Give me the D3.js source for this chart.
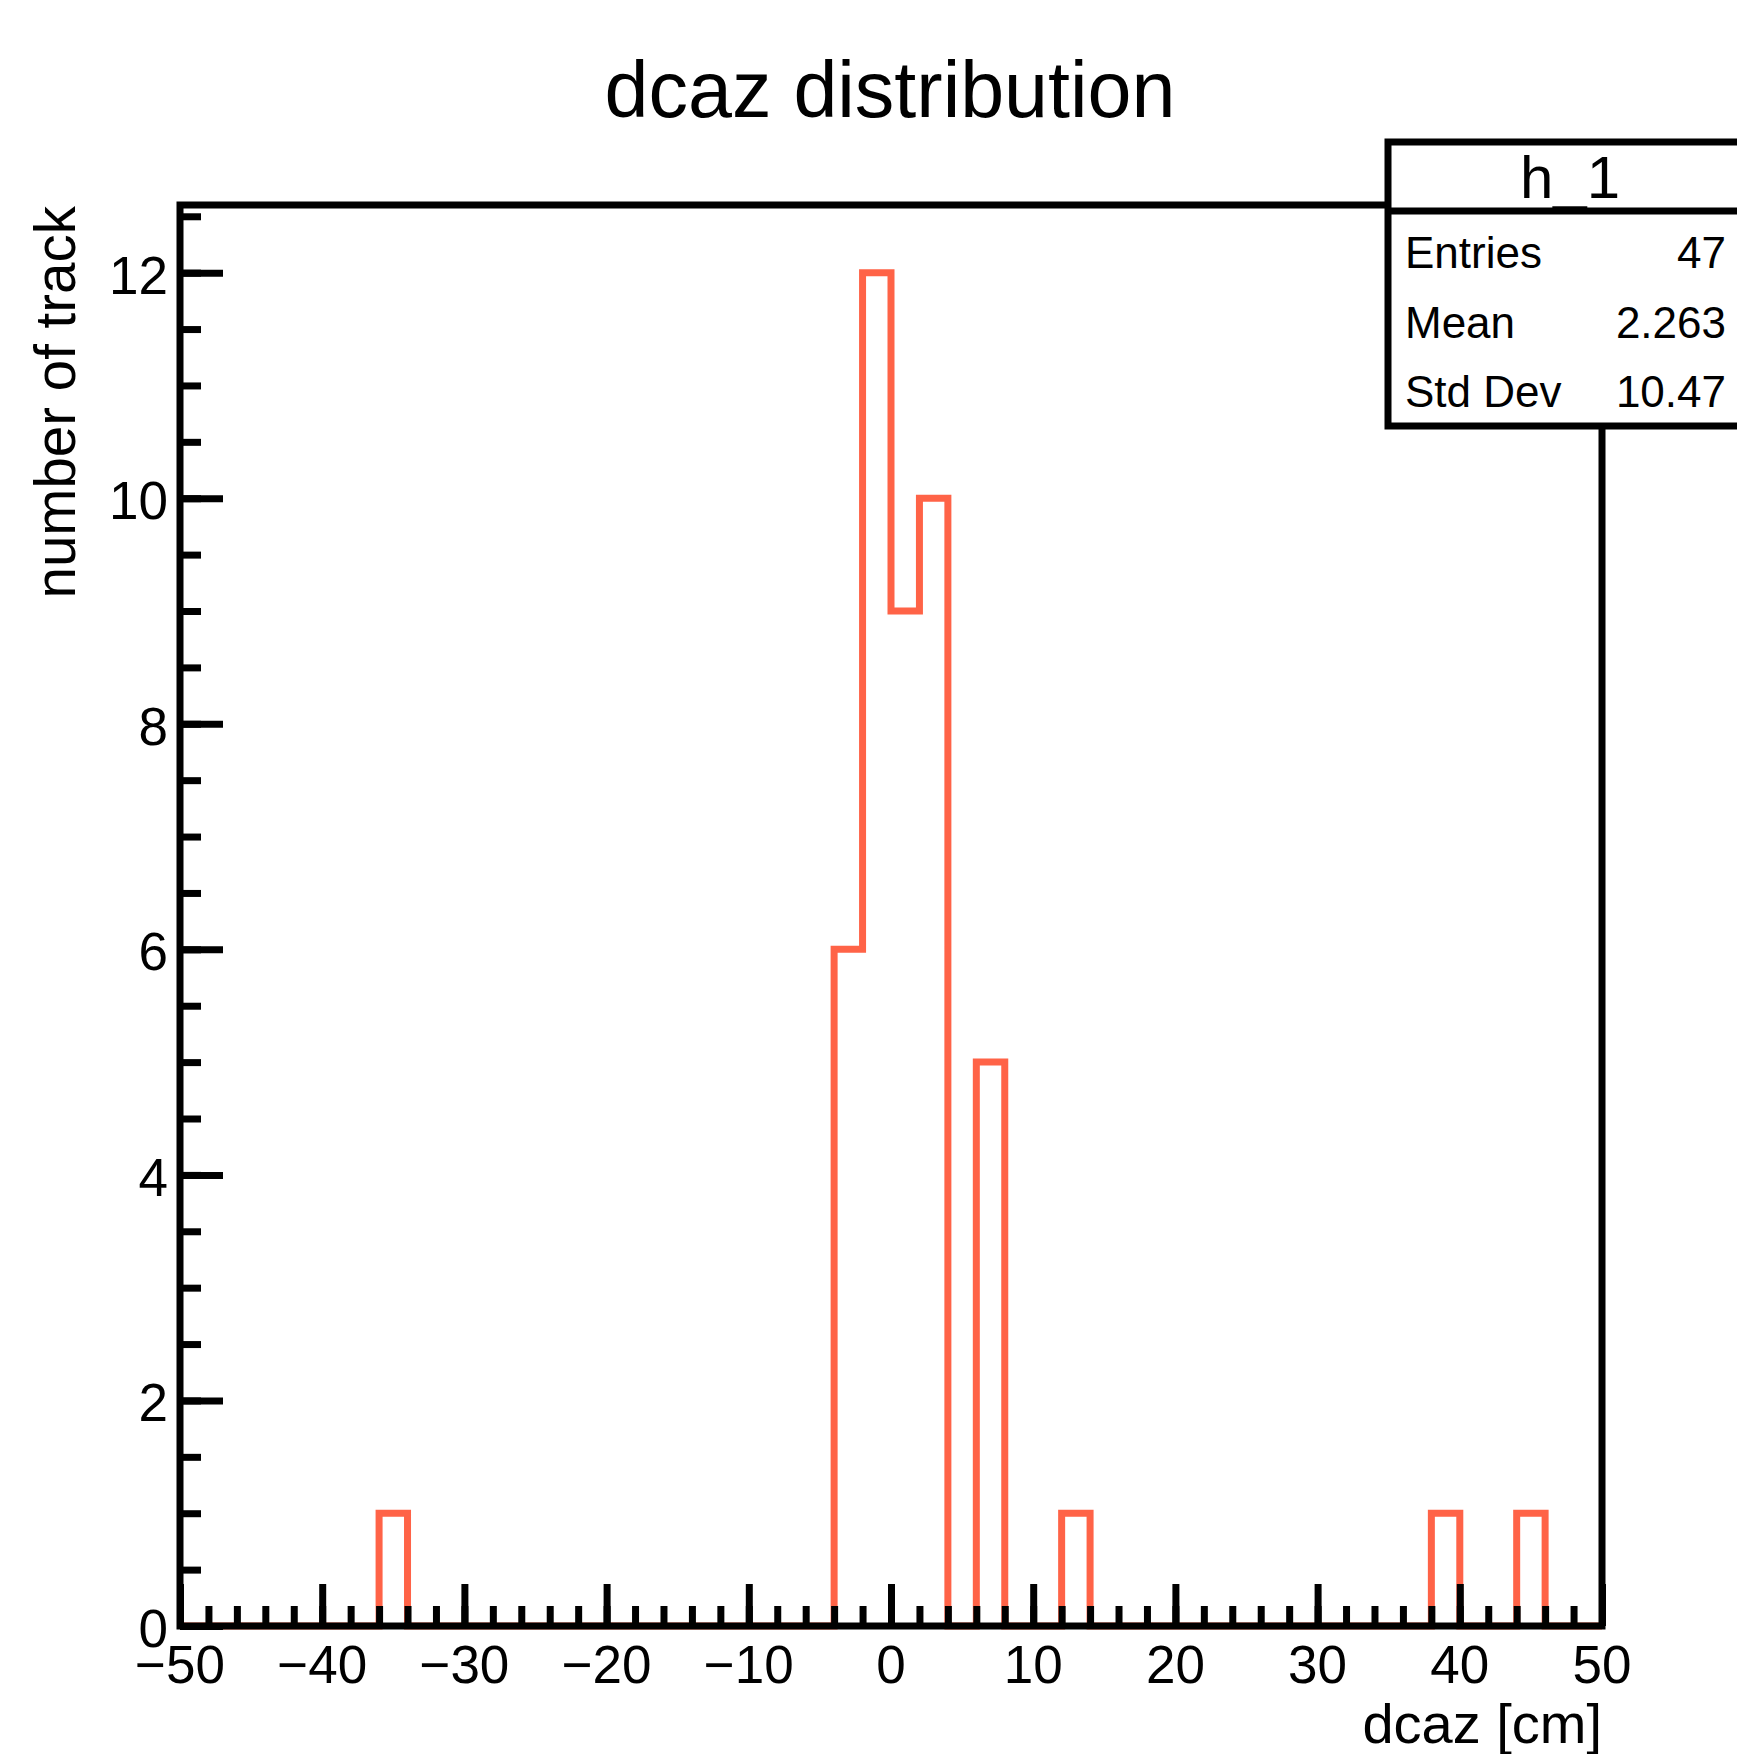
<!DOCTYPE html>
<meta charset="utf-8">
<style>
  body { margin: 0; background: #fff; }
  text { font-family: "Liberation Sans", Arial, Helvetica, sans-serif; fill: #000; }
</style>
<body>
<svg id="c" width="1737" height="1754"></svg>
</body>
<script src="https://d3js.org/d3.v7.min.js"></script>
<script>
// histogram h_1 : 50 bins of 2 cm between -50 and 50
var xMin = -50, xMax = 50, nBins = 50;
var counts = [0, 0, 0, 0, 0, 0, 0, 1, 0, 0,
              0, 0, 0, 0, 0, 0, 0, 0, 0, 0,
              0, 0, 0, 6, 12, 9, 10, 0, 5, 0,
              0, 1, 0, 0, 0, 0, 0, 0, 0, 0,
              0, 0, 0, 0, 1, 0, 0, 1, 0, 0];
var xTicks = [-50, -40, -30, -20, -10, 0, 10, 20, 30, 40, 50];
var yTicks = [0, 2, 4, 6, 8, 10, 12];
var yMax = 12.6;
var statNames = ["Entries", "Mean", "Std Dev"];
var statValues = ["47", "2.263", "10.47"];

var frame = {left: 180, right: 1602, top: 205, bottom: 1626},
    lw = 7;

var svg = d3.select("#c");

var x = d3.scaleLinear().domain([xMin, xMax]).range([frame.left, frame.right]),
    y = d3.scaleLinear().domain([0, yMax]).range([frame.bottom, frame.top]);

var binW = (xMax - xMin) / nBins;

// step outline of the histogram
var pts = [[xMin, 0]];
counts.forEach(function(c, i) {
  var lo = xMin + i * binW;
  pts.push([lo, c]);
  pts.push([lo + binW, c]);
});
pts.push([xMax, 0]);

svg.append("path")
  .attr("d", d3.line().x(function(d) { return x(d[0]); }).y(function(d) { return y(d[1]); })(pts))
  .attr("fill", "none")
  .attr("stroke", "#ff6347")
  .attr("stroke-width", lw)
  .attr("stroke-linejoin", "miter");

// frame
svg.append("rect")
  .attr("x", frame.left).attr("y", frame.top)
  .attr("width", frame.right - frame.left).attr("height", frame.bottom - frame.top)
  .attr("fill", "none").attr("stroke", "#000").attr("stroke-width", lw);

// x axis ticks (major every 10, minor every 2)
var xAxis = d3.axisTop(x)
  .tickValues(xTicks).tickSize(42).tickSizeOuter(0).tickFormat("");
var xMinor = d3.axisTop(x)
  .tickValues(d3.range(xMin, xMax + 0.01, binW)).tickSize(20).tickSizeOuter(0).tickFormat("");
[xMinor, xAxis].forEach(function(a) {
  var g = svg.append("g").attr("transform", "translate(0," + frame.bottom + ")").call(a);
  g.select(".domain").remove();
  g.selectAll("line").attr("stroke", "#000").attr("stroke-width", lw);
});

// y axis ticks (major every 2, minor every 0.5)
var yAxis = d3.axisRight(y)
  .tickValues(yTicks).tickSize(43).tickSizeOuter(0).tickFormat("");
var yMinor = d3.axisRight(y)
  .tickValues(d3.range(0, yMax, 0.5)).tickSize(21).tickSizeOuter(0).tickFormat("");
[yMinor, yAxis].forEach(function(a) {
  var g = svg.append("g").attr("transform", "translate(" + frame.left + ",0)").call(a);
  g.select(".domain").remove();
  g.selectAll("line").attr("stroke", "#000").attr("stroke-width", lw);
});

// tick labels
svg.append("g").selectAll("text").data(xTicks).enter().append("text")
  .attr("x", function(d) { return x(d); })
  .attr("y", frame.bottom + 57)
  .attr("text-anchor", "middle")
  .style("font-size", "53px")
  .text(function(d) { return d < 0 ? "\u2212" + Math.abs(d) : d; });

svg.append("g").selectAll("text").data(yTicks).enter().append("text")
  .attr("x", frame.left - 12)
  .attr("y", function(d) { return y(d) + 21; })
  .attr("text-anchor", "end")
  .style("font-size", "53px")
  .text(function(d) { return d; });

// titles
svg.append("text")
  .attr("x", 890).attr("y", 117)
  .attr("text-anchor", "middle")
  .style("font-size", "79px")
  .text("dcaz distribution");

svg.append("text")
  .attr("x", frame.right).attr("y", 1743)
  .attr("text-anchor", "end")
  .style("font-size", "56px")
  .text("dcaz [cm]");

svg.append("text")
  .attr("transform", "translate(75,206) rotate(-90)")
  .attr("text-anchor", "end")
  .style("font-size", "56.5px")
  .text("number of track");

// stats box
var box = {x: 1388, y: 142, w: 360, h: 284, head: 69};
svg.append("rect")
  .attr("x", box.x).attr("y", box.y).attr("width", box.w).attr("height", box.h)
  .attr("fill", "#fff").attr("stroke", "#000").attr("stroke-width", lw);
svg.append("line")
  .attr("x1", box.x).attr("x2", box.x + box.w)
  .attr("y1", box.y + box.head).attr("y2", box.y + box.head)
  .attr("stroke", "#000").attr("stroke-width", lw);
svg.append("text")
  .attr("x", box.x + box.w / 2 + 2).attr("y", 198)
  .attr("text-anchor", "middle")
  .style("font-size", "60px")
  .text("h_1");

var rows = svg.append("g").selectAll("g").data(statNames).enter().append("g");
rows.append("text")
  .attr("x", 1405)
  .attr("y", function(d, i) { return 268 + i * 69.5; })
  .style("font-size", "44px")
  .text(function(d) { return d; });
rows.append("text")
  .attr("x", 1726)
  .attr("y", function(d, i) { return 268 + i * 69.5; })
  .attr("text-anchor", "end")
  .style("font-size", "44px")
  .text(function(d, i) { return statValues[i]; });
</script>
